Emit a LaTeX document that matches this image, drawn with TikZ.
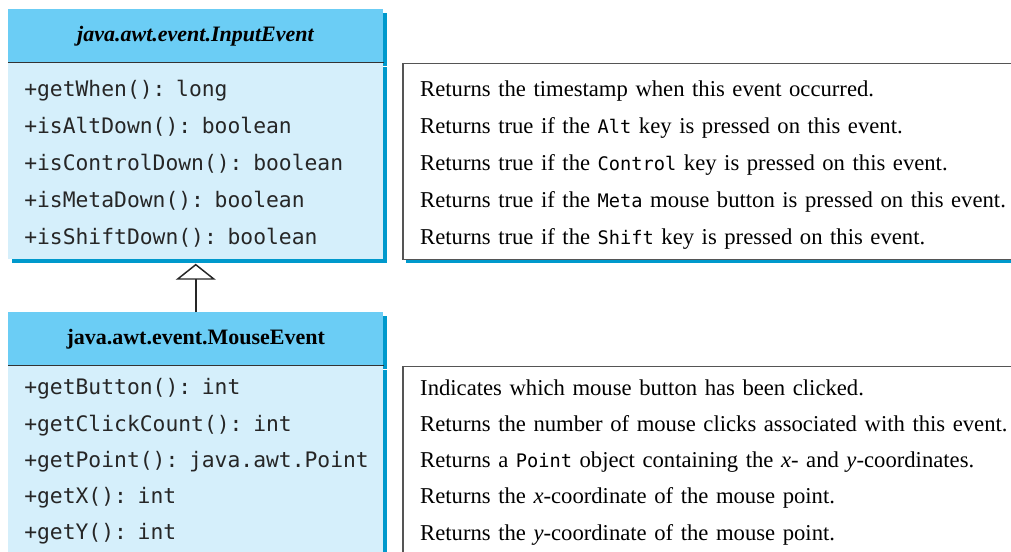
\documentclass[tikz,border=0pt]{standalone}
\usepackage{fontspec}
\setmainfont{Liberation Serif}
\newfontfamily\codefont{DejaVu Sans Mono}
\usetikzlibrary{arrows.meta, positioning, shadows}
\definecolor{hdrblue}{RGB}{107,205,245}
\definecolor{bodyblue}{RGB}{213,239,251}
\definecolor{shadowblue}{RGB}{0,153,204}
\definecolor{descgrey}{RGB}{85,85,85}
\newcommand{\kw}[1]{{\codefont\fontsize{14}{14}\selectfont #1}}
\newcommand{\toprow}[1]{\rule{0pt}{#1}}
\newcommand{\botrow}[1]{\rule[-#1]{0pt}{0pt}}

\begin{document}
\begin{tikzpicture}[x=0.75pt, y=-0.75pt,
  hdr/.style={fill=hdrblue, minimum width=281.25pt, minimum height=39.75pt, inner sep=0pt, font=\fontsize{16.5}{18}\selectfont\bfseries, drop shadow={shadow xshift=3pt, shadow yshift=-3pt, fill=shadowblue, opacity=1}},
  cls/.style={fill=bodyblue, text width=257.25pt, inner xsep=12pt, inner ysep=0pt, minimum height=147pt, align=left, font=\codefont\fontsize{16}{27.75}\selectfont, text=black!85, drop shadow={shadow xshift=3pt, shadow yshift=-3pt, fill=shadowblue, opacity=1}},
  desc/.style={draw=descgrey, line width=1pt, fill=white, text width=600pt, inner xsep=13pt, inner ysep=0pt, minimum height=147pt, align=left, font=\fontsize{17}{27.75}\selectfont, drop shadow={shadow xshift=2pt, shadow yshift=-2.5pt, fill=shadowblue, opacity=1}},
  tight/.style={font=\fontsize{#1}{27.2}\selectfont},
  sep/.style={line width=1.1pt, draw=black!80},
  inherit/.style={-{Triangle[open, length=12pt, width=30pt]}, line width=1.1pt, draw=black!85, shorten >=3.5pt}
]
  \path[use as bounding box, clip] (0,0) rectangle (1011,552);
  \node[hdr, anchor=north west] (inHdr) at (8,9) {\textit{java.awt.event.InputEvent}};
  \node[cls, below=0pt of inHdr] (inBody) {\toprow{16pt}+getWhen(): long\\+isAltDown(): boolean\\+isControlDown(): boolean\\+isMetaDown(): boolean\\+isShiftDown(): boolean};
  \draw[sep] (inHdr.south west) -- (inHdr.south east);
  \node[desc, right=14pt of inBody.north east, anchor=north west] (inDesc) {\toprow{17pt}Returns the timestamp when this event occurred.\\Returns true if the \kw{Alt} key is pressed on this event.\\Returns true if the \kw{Control} key is pressed on this event.\\Returns true if the \kw{Meta} mouse button is pressed on this event.\\Returns true if the \kw{Shift} key is pressed on this event.};

  \node[hdr, below=39.75pt of inBody] (msHdr) {java.awt.event.MouseEvent};
  \node[cls, font=\codefont\fontsize{16}{27.2}\selectfont, below=0pt of msHdr] (msBody) {+getButton(): int\\+getClickCount(): int\\\mbox{+getPoint(): java.awt.Point}\\+getX(): int\\+getY(): int\botrow{7pt}};
  \draw[sep] (msHdr.south west) -- (msHdr.south east);
  \node[desc, tight=17, right=14pt of msBody.north east, anchor=north west] (msDesc) {Indicates which mouse button has been clicked.\\Returns the number of mouse clicks associated with this event.\\Returns a \kw{Point} object containing the \textit{x}- and \textit{y}-coordinates.\\Returns the \textit{x}-coordinate of the mouse point.\\Returns the \textit{y}-coordinate of the mouse point.\botrow{6.7pt}};
  \draw[inherit] (msHdr) -- (inBody);
\end{tikzpicture}
\end{document}
